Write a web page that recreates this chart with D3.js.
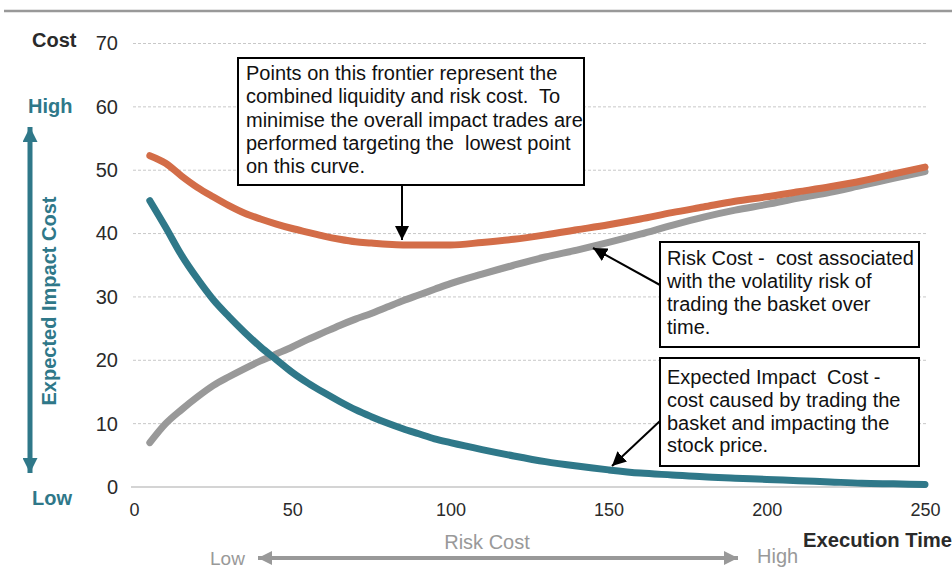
<!DOCTYPE html>
<html>
<head>
<meta charset="utf-8">
<script src="https://cdn.jsdelivr.net/npm/d3@7"></script>
<style>
  html, body { margin: 0; padding: 0; background: #fff; }
  svg { display: block; }
  text { font-family: "Liberation Sans", Arial, sans-serif; }
</style>
</head>
<body>
<svg id="chart" width="952" height="569"></svg>
<script>
// Execution time (x) and cost series
const executionTime = [5, 10, 15, 20, 25, 30, 35, 40, 45, 50, 55, 60, 65, 70, 75, 80, 85, 90, 95, 100,
                       110, 120, 130, 140, 150, 160, 170, 180, 190, 200, 210, 220, 230, 240, 250];
const impactCost = [45.2, 41.0, 36.6, 32.9, 29.6, 26.9, 24.4, 22.1, 20.1, 18.1, 16.4, 14.9, 13.5, 12.2, 11.1, 10.1, 9.2, 8.4, 7.6, 7.0,
                    5.9, 4.9, 4.0, 3.3, 2.7, 2.2, 1.9, 1.6, 1.4, 1.2, 1.0, 0.8, 0.6, 0.5, 0.4];
const riskCost = [7.0, 10.0, 12.2, 14.2, 16.0, 17.4, 18.7, 19.9, 21.0, 22.1, 23.3, 24.4, 25.5, 26.5, 27.4, 28.4, 29.4, 30.3, 31.2, 32.1,
                  33.6, 35.0, 36.3, 37.4, 38.6, 39.9, 41.3, 42.6, 43.7, 44.6, 45.6, 46.5, 47.6, 48.7, 49.8];
const totalCost = [52.3, 51.1, 49.1, 47.3, 45.8, 44.4, 43.2, 42.3, 41.5, 40.8, 40.2, 39.6, 39.1, 38.7, 38.5, 38.3, 38.2, 38.2, 38.2, 38.2,
                   38.6, 39.1, 39.8, 40.6, 41.4, 42.3, 43.3, 44.2, 45.1, 45.8, 46.6, 47.4, 48.3, 49.4, 50.5];
const yTicks = [0, 10, 20, 30, 40, 50, 60, 70];
const xTicks = [0, 50, 100, 150, 200, 250];

const frontierNote = [
  "Points on this frontier represent the",
  "combined liquidity and risk cost.  To",
  "minimise the overall impact trades are",
  "performed targeting the  lowest point",
  "on this curve."
];
const riskNote = [
  "Risk Cost -  cost associated",
  "with the volatility risk of",
  "trading the basket over",
  "time."
];
const impactNote = [
  "Expected Impact  Cost -",
  "cost caused by trading the",
  "basket and impacting the",
  "stock price."
];

const COLORS = { total: "#D36D48", risk: "#999999", impact: "#2F7889", grid: "#c8c8c8", text: "#2a2a2a" };

const svg = d3.select("#chart");
const x = d3.scaleLinear().domain([0, 250]).range([134, 925]);
const y = d3.scaleLinear().domain([0, 70]).range([487, 43.5]);

// arrowhead markers
const defs = svg.append("defs");
function marker(id, color, w, h) {
  defs.append("marker")
    .attr("id", id).attr("viewBox", "0 0 10 10")
    .attr("refX", 10).attr("refY", 5)
    .attr("markerUnits", "userSpaceOnUse")
    .attr("markerWidth", w).attr("markerHeight", h)
    .attr("orient", "auto-start-reverse")
    .append("path").attr("d", "M0,0 L10,5 L0,10 Z").attr("fill", color);
}
marker("headBlack", "#000", 14, 14);
marker("headTeal", COLORS.impact, 16, 15);
marker("headGray", COLORS.risk, 15, 14);

// top rule
svg.append("line").attr("x1", 4).attr("x2", 952).attr("y1", 11).attr("y2", 11)
  .attr("stroke", "#999").attr("stroke-width", 2.5);

// gridlines
svg.append("g").selectAll("line").data(yTicks.filter(d => d > 0)).join("line")
  .attr("x1", 133).attr("x2", 927)
  .attr("y1", d => y(d)).attr("y2", d => y(d))
  .attr("stroke", COLORS.grid).attr("stroke-width", 1).attr("stroke-dasharray", "3,2");
svg.append("line").attr("x1", 131).attr("x2", 927).attr("y1", y(0)).attr("y2", y(0))
  .attr("stroke", "#d4d4d4").attr("stroke-width", 2);

// axes
const yAxis = svg.append("g").attr("transform", `translate(${x(0)},0)`)
  .call(d3.axisLeft(y).tickValues(yTicks).tickSize(0).tickPadding(16));
yAxis.select(".domain").remove();
yAxis.selectAll("text").attr("font-size", 20).attr("fill", COLORS.text)
  .style("font-family", "'Liberation Sans', Arial, sans-serif");

const xAxis = svg.append("g").attr("transform", `translate(0,${y(0)})`)
  .call(d3.axisBottom(x).tickValues(xTicks).tickSize(0).tickPadding(16));
xAxis.select(".domain").remove();
xAxis.selectAll("text").attr("font-size", 18).attr("fill", COLORS.text)
  .style("font-family", "'Liberation Sans', Arial, sans-serif");

// series lines
const line = vals => d3.line()
  .x((d, i) => x(executionTime[i]))
  .y(d => y(d))
  .curve(d3.curveMonotoneX)(vals);

[[riskCost, COLORS.risk], [totalCost, COLORS.total], [impactCost, COLORS.impact]].forEach(([vals, c]) => {
  svg.append("path").attr("d", line(vals))
    .attr("fill", "none").attr("stroke", c).attr("stroke-width", 7)
    .attr("stroke-linecap", "round").attr("stroke-linejoin", "round");
});

// axis titles
svg.append("text").attr("x", 32).attr("y", 47).text("Cost")
  .attr("font-size", 20).attr("font-weight", "bold").attr("fill", COLORS.text);
svg.append("text").attr("x", 28).attr("y", 113).text("High")
  .attr("font-size", 20).attr("font-weight", "bold").attr("fill", COLORS.impact);
svg.append("text").attr("x", 32).attr("y", 505).text("Low")
  .attr("font-size", 20).attr("font-weight", "bold").attr("fill", COLORS.impact);
svg.append("line").attr("x1", 30).attr("x2", 30).attr("y1", 300).attr("y2", 127)
  .attr("stroke", COLORS.impact).attr("stroke-width", 5).attr("marker-end", "url(#headTeal)");
svg.append("line").attr("x1", 30).attr("x2", 30).attr("y1", 300).attr("y2", 473)
  .attr("stroke", COLORS.impact).attr("stroke-width", 5).attr("marker-end", "url(#headTeal)");
svg.append("text").attr("transform", "translate(56,301) rotate(-90)")
  .attr("text-anchor", "middle").text("Expected Impact Cost")
  .attr("font-size", 20).attr("font-weight", "bold").attr("fill", COLORS.impact);

svg.append("text").attr("x", 952).attr("y", 547).attr("text-anchor", "end").text("Execution Time")
  .attr("font-size", 20).attr("font-weight", "bold").attr("fill", COLORS.text)
  .attr("textLength", 149).attr("lengthAdjust", "spacingAndGlyphs");
svg.append("text").attr("x", 487).attr("y", 549).attr("text-anchor", "middle").text("Risk Cost")
  .attr("font-size", 20).attr("fill", COLORS.risk);
svg.append("text").attr("x", 210).attr("y", 565).text("Low")
  .attr("font-size", 19).attr("fill", COLORS.risk);
svg.append("text").attr("x", 757).attr("y", 563).text("High")
  .attr("font-size", 20).attr("fill", COLORS.risk);
svg.append("line").attr("x1", 498).attr("x2", 258).attr("y1", 558).attr("y2", 558)
  .attr("stroke", COLORS.risk).attr("stroke-width", 4).attr("marker-end", "url(#headGray)");
svg.append("line").attr("x1", 498).attr("x2", 738).attr("y1", 558).attr("y2", 558)
  .attr("stroke", COLORS.risk).attr("stroke-width", 4).attr("marker-end", "url(#headGray)");

// annotation boxes
function note(lines, x0, y0, w, h, tx, firstBase, step) {
  svg.append("rect").attr("x", x0).attr("y", y0).attr("width", w).attr("height", h)
    .attr("fill", "#fff").attr("stroke", "#000").attr("stroke-width", 2);
  const t = svg.append("text").attr("font-size", 20).attr("fill", "#111")
    .style("white-space", "pre");
  lines.forEach((s, i) => t.append("tspan").attr("x", tx).attr("y", firstBase + i * step).text(s));
}
function pointer(x1, y1, x2, y2) {
  svg.append("line").attr("x1", x1).attr("y1", y1).attr("x2", x2).attr("y2", y2)
    .attr("stroke", "#000").attr("stroke-width", 2).attr("marker-end", "url(#headBlack)");
}

note(frontierNote, 238, 58, 346, 127, 246, 80, 23.3);
pointer(402, 185, 402, y(38.2) - 5);

note(riskNote, 660, 242, 259, 105, 667, 265, 23);
pointer(660, 285, 593, 248);

note(impactNote, 660, 358, 259, 108, 667, 384, 22.8);
pointer(660, 421, 612, 466);
</script>
</body>
</html>
